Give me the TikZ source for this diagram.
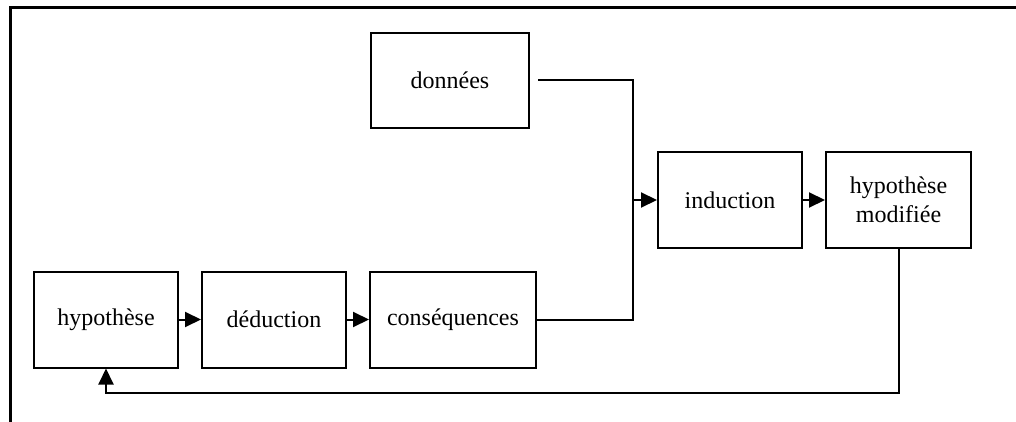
\documentclass[tikz,border=0pt]{standalone}
\usepackage{fontspec}
\setmainfont{Liberation Serif}
\usepackage{tikz}
\usetikzlibrary{arrows.meta,calc,positioning}

\begin{document}
\begin{tikzpicture}[x=0.5pt,y=-0.5pt,>={Triangle[length=8pt,width=7.5pt]},
    font=\fontsize{12}{14.5}\selectfont,
    box/.style={draw,line width=1pt,minimum width=72pt,minimum height=48pt,inner sep=0pt,align=center},
    link/.style={line width=1pt}]

    \useasboundingbox (0,0) rectangle (1016,422);
    \draw[line width=1.5pt] (1016,8) -- (10,8) -- (10,422);

    \node[box]    (hyp)  at (106,319.5) {hypothèse};
    \node[box]    (deduction)  [right=11pt of hyp] {déduction};
    \node[box,minimum width=83pt]    (cons)  [right=11pt of deduction] {conséquences};
    \node[box,minimum width=79pt,minimum height=47.5pt]    (data)  at (450,80.5) {données};
    \node[box]    (induction)  at (730,200) {induction};
    \node[box,minimum width=72.5pt]    (hyp-mod)  [right=11pt of induction] {hypothèse\\modifiée};

    \coordinate (join) at (633,200);

    \draw[link,->] (hyp) -- (deduction);
    \draw[link,->] (deduction) -- (cons);
    \draw[link] ([xshift=4pt]data.east) -| (join);
    \draw[link] (cons.east) -| (join);
    \draw[link,->] (join) -- (induction);
    \draw[link,->] (induction) -- (hyp-mod);
    \draw[link,->] (hyp-mod.south) -- ++(0,144) -| (hyp.south);

\end{tikzpicture}
\end{document}
